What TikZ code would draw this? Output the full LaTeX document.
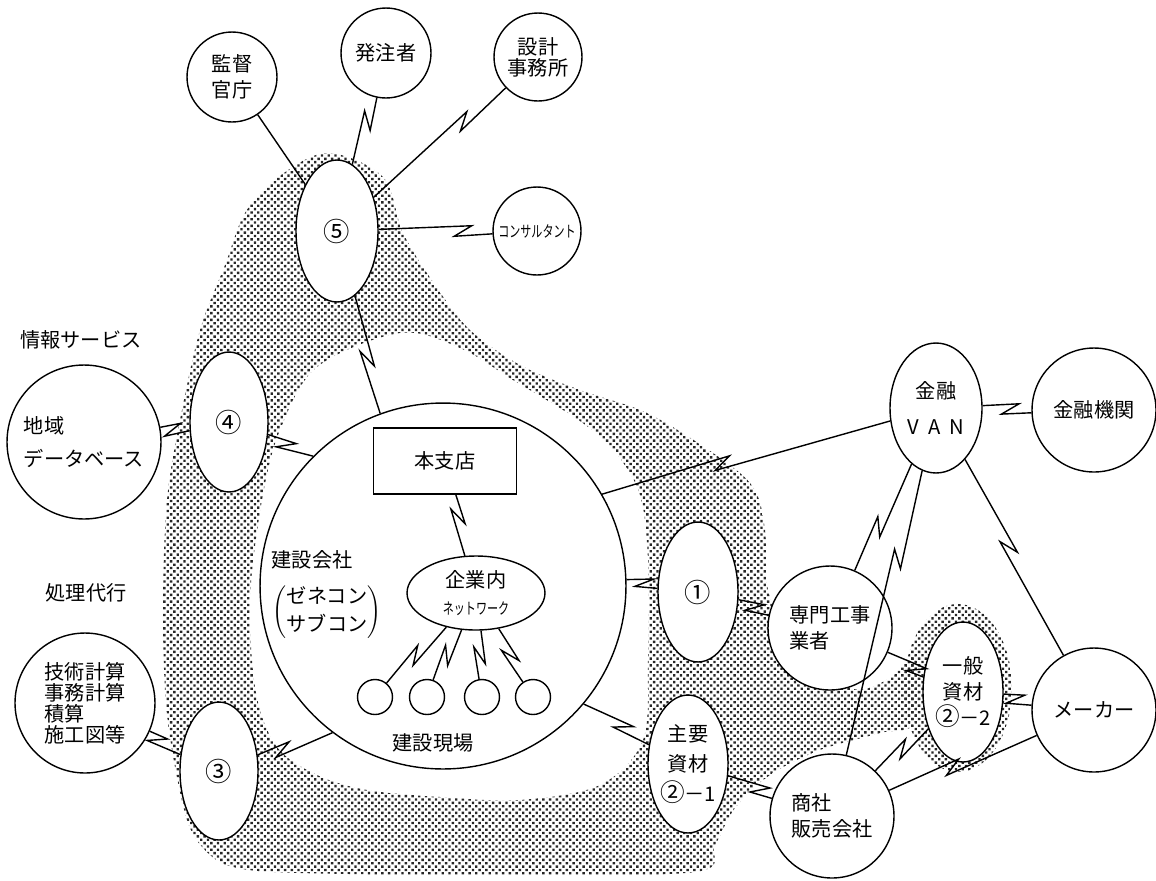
\documentclass[tikz,border=0pt]{standalone}
\usepackage{fontspec}
\setmainfont{Noto Sans CJK JP}
\usetikzlibrary{calc,shapes.geometric,patterns.meta}

\tikzset{
  circ/.style={circle,draw,fill=white,inner sep=0pt,minimum size=#1},
  oval/.style 2 args={ellipse,draw,fill=white,inner sep=0pt,minimum width=#1,minimum height=#2},
  box/.style={draw,fill=white,minimum width=2.86cm,minimum height=1.32cm},
  num/.style={font=\fontsize{15}{18}\selectfont},
  shade/.style={pattern={Dots[distance=2.7pt,radius=.95pt,angle=45]},pattern color=black!85}
}

% line with a lightning break
\newcommand{\zlink}[3][.5]{%
  \draw (#2) -- ($(#2)!#1!(#3)!5pt!(#3)!3pt!90:(#3)$)
    -- ($(#2)!#1!(#3)!-5pt!(#3)!3pt!-90:(#3)$) -- (#3);}
\newcommand{\narrow}[1]{\scalebox{.7}[1]{\fontsize{9}{10}\selectfont #1}}
\newcommand{\cnum}[1]{{\fontsize{14}{15}\selectfont #1}}

\begin{document}
\begin{tikzpicture}[x=0.02cm,y=-0.02cm,line width=0.8pt,
                    font=\fontsize{11.5}{15}\selectfont]
\useasboundingbox (0,0) rectangle (1156,880);

% Shaded area
\fill[shade,even odd rule]
  plot[smooth cycle,tension=.55] coordinates {
    (327,153) (383,177) (403,233) (435,285) (470,330) (520,365) (580,390)
    (647,413) (713,453) (753,487) (765,530) (768,590) (790,640) (850,688)
    (890,678) (915,655) (915,722) (880,733) (820,750) (770,775) (735,808)
    (715,845) (695,872) (500,875) (300,873) (233,867) (205,850) (187,820)
    (172,750) (165,690) (163,600) (167,500) (180,420) (200,330) (225,265)
    (245,213) (277,178)}
  plot[smooth cycle,tension=.55] coordinates {
    (262,500) (280,430) (317,367) (400,333) (460,348) (513,380) (580,421)
    (615,452) (640,495) (648,560) (648,660) (643,740) (600,785) (520,800)
    (440,797) (367,790) (317,775) (277,747) (256,693) (250,600)};
\fill[shade] (958,688) ellipse [x radius=1.08cm,y radius=1.68cm];

% Define nodes
\node[circ=1.8cm,align=center] (kantoku) at (232,77) {監督\\官庁};
\node[circ=1.8cm] (hatchu) at (386,53) {発注者};
\node[circ=1.76cm,align=center] (sekkei) at (538,57) {設計\\[-3pt]事務所};
\node[oval={1.64cm}{2.84cm},num] (e5) at (337,231) {⑤};
\node[circ=1.76cm] (consul) at (537,231) {\narrow{コンサルタント}};

\node[circ=3.08cm,align=left] (chiiki) at (84,442) {地域\\[4pt]データベース};
\node[oval={1.56cm}{2.8cm},num] (e4) at (229,422) {④};
\node[circ=2.8cm,align=left] (gijutsu) at (85,703)
  {技術計算\\[-3pt]事務計算\\[-3pt]積算\\[-3pt]施工図等};
\node[oval={1.56cm}{2.76cm},num] (e3) at (219,771) {③};

\node[circ=7.32cm] (big) at (443,586) {};
\node[box] (honshiten) at (445,461) {本支店};
\node[oval={2.76cm}{1.48cm},align=center] (lan) at (476,593)
  {企業内\\\narrow{ネットワーク}};
\foreach \i/\x in {1/375,2/427,3/482,4/533}
  \node[circ=0.7cm] (site\i) at (\x,697) {};

\node[oval={1.6cm}{2.8cm},num] (e1) at (698,592) {①};
\node[oval={1.6cm}{2.76cm},align=center] (e21) at (688,764)
  {主要\\[2pt]資材\\[2pt]\cnum{②}－1};
\node[circ=2.48cm,align=left] (senmon) at (830,628) {専門工事\\業者};
\node[circ=2.48cm,align=left] (shosha) at (832,816) {商社\\販売会社};
\node[oval={1.84cm}{2.6cm},align=center] (van) at (936,408)
  {金融\\[6pt]V\ \ A\ \ N};
\node[circ=2.48cm] (kinyu) at (1094,410) {金融機関};
\node[oval={1.6cm}{2.8cm},align=center] (e22) at (963,692)
  {一般\\資材\\\cnum{②}－2};
\node[circ=2.48cm] (maker) at (1094,710) {メーカー};

% Draw links
\draw (kantoku) -- (e5);
\zlink[.38]{hatchu}{e5}
\zlink[.37]{sekkei}{e5}
\zlink[.63]{e5}{consul}
\zlink[.7]{e5}{big.110}
\zlink[.61]{chiiki}{e4}
\zlink[.68]{e4}{big.135}
\zlink[.54]{gijutsu}{e3}
\zlink[.56]{e3}{big.233}
\zlink[.42]{honshiten}{lan}
\foreach \i in {1,...,4}{\zlink[.6]{lan}{site\i}}
\zlink[.25]{big.2}{e1}
\zlink[.43]{e1}{senmon}
\zlink[.38]{big.-40}{e21}
\zlink{e21}{shosha}
\zlink[.36]{big.30}{van}
\zlink[.47]{van}{kinyu}
\zlink[.54]{van}{senmon}
\zlink[.37]{van}{shosha}
\zlink[.46]{van}{maker}
\zlink[.65]{senmon}{e22}
\zlink[.4]{e22}{maker}
\zlink[.54]{shosha}{e22}
\zlink[.46]{shosha}{maker}

% Labels
\node (joho) at (81,340) {情報サービス};
\node (shori) at (86,593) {処理代行};
\node (kensetsu) at (312,560) {建設会社};
\node[inner sep=0pt] (zenecon) at (327,612)
  {$\left(\begin{tabular}{@{}c@{}}ゼネコン\\[1pt]サブコン\end{tabular}\right)$};
\node (genba) at (433,743) {建設現場};
\end{tikzpicture}
\end{document}
